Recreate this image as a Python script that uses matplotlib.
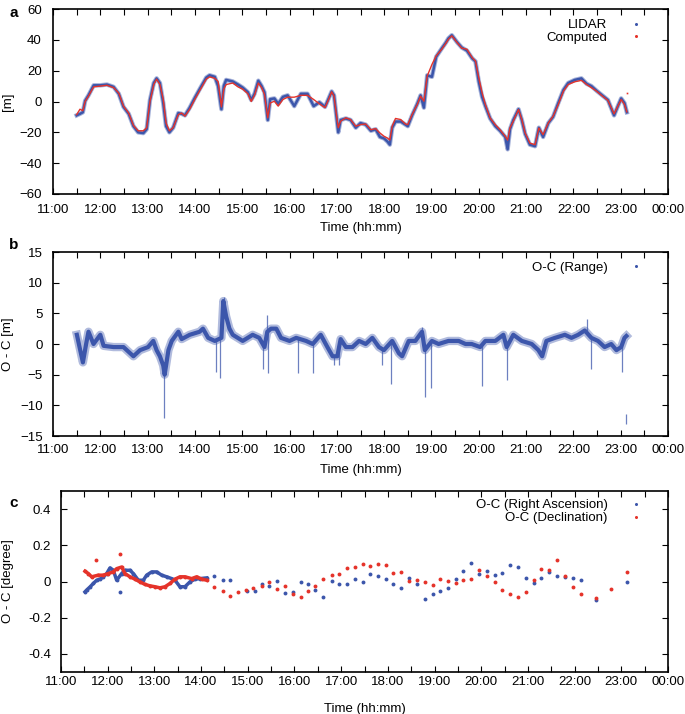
import matplotlib
matplotlib.use("Agg")
import matplotlib.pyplot as plt
import numpy as np

plt.rcParams['font.family'] = ['Liberation Sans', 'DejaVu Sans']
plt.rcParams['font.size'] = 9.5

BLUE = '#3c56ab'
RED = '#e5332a'

# ---- panel a : range (hours of day, metres)
t_a = [11.50, 11.57, 11.63, 11.68, 11.75, 11.86, 12.00, 12.14, 12.28, 12.39,
       12.49, 12.60, 12.70, 12.80, 12.91, 12.98, 13.05, 13.13, 13.19, 13.26,
       13.33, 13.39, 13.46, 13.54, 13.65, 13.72, 13.79, 13.89, 14.00, 14.10,
       14.24, 14.31, 14.42, 14.49, 14.56, 14.61, 14.66, 14.80, 14.91, 15.01,
       15.12, 15.19, 15.26, 15.34, 15.41, 15.47, 15.54, 15.59, 15.68, 15.76,
       15.86, 15.96, 16.10, 16.24, 16.38, 16.51, 16.63, 16.75, 16.84, 16.89,
       16.94, 17.00, 17.03, 17.08, 17.19, 17.29, 17.40, 17.50, 17.61, 17.72,
       17.82, 17.91, 18.00, 18.07, 18.12, 18.17, 18.24, 18.35, 18.45, 18.50,
       18.59, 18.70, 18.77, 18.84, 18.91, 19.01, 19.10, 19.22, 19.30, 19.36,
       19.43, 19.54, 19.64, 19.75, 19.86, 19.93, 20.00, 20.07, 20.14, 20.24,
       20.35, 20.45, 20.56, 20.61, 20.66, 20.73, 20.84, 20.91, 20.98, 21.08,
       21.19, 21.27, 21.36, 21.47, 21.57, 21.68, 21.79, 21.89, 22.03, 22.17,
       22.28, 22.38, 22.49, 22.59, 22.73, 22.86, 22.94, 23.01, 23.08, 23.13]
computed = [-8.5, -5, -6, 0, 3.5, 9.5, 10, 10.5, 9, 5.5,
            -3, -7.5, -15.5, -19, -19, -17, 0, 11, 14.5, 11,
            1.5, -14, -19, -17, -8.5, -7.5, -9.5, -5, 1.5, 7,
            14.5, 16, 15, 13, -3.5, 8, 11, 12, 9.5, 8,
            5, 0, 4, 12, 9, 4.6, -10.6, -1, 0.2, -3,
            1.3, 2.8, 2.8, 4, 4, 1.3, -1.5, -4, 2.4, 6.3,
            3.5, -10.6, -17, -12.8, -10.6, -11.7, -16, -15, -14.6, -18.3,
            -17.6, -20.4, -22.6, -23.7, -25, -16, -11, -11.7, -14.6, -15,
            -8.5, -2, 3.5, 0.2, 16.5, 24, 29.6, 34, 37.5, 40.4,
            42.6, 38.3, 34.6, 33.9, 28.5, 26.3, 15.4, 5.7, -2, -10.7,
            -15, -18.3, -22.6, -25, -17, -12.8, -5.2, -11.7, -20.4, -27,
            -28, -17.2, -21.5, -13.9, -9.6, -2, 6.7, 11, 12.8, 13.7,
            11, 9, 6.7, 4.1, 0.7, -8, -3, 1.3, -2, -6.7]
lidar = [-9, -8, -7, 0.5, 4, 10.5, 10.5, 11, 9.5, 5,
         -3.5, -8, -16, -20, -20.5, -18, 1, 12, 15, 12,
         -1, -16, -20, -17, -7.5, -8, -9, -4, 2.5, 8,
         15.5, 17, 16, 10, -5, 10, 14, 13, 11, 9,
         6, 1, 5, 13.5, 10, 6, -12, 1.5, 2, -1.5,
         3, 4, -3, 5, 5, -3, -0.5, -3.5, 3, 6.5,
         4, -12, -20, -12, -11, -12, -17, -14, -15, -19,
         -18, -23, -24, -26, -28, -17, -13, -13, -15, -16,
         -9, -1.5, 4, -4, 17, 16, 29, 34.5, 38, 41,
         43, 38.5, 35, 33, 28, 26, 13, 3, -3, -11,
         -16, -19, -23, -31, -18, -12, -5, -12, -21, -28,
         -29, -17, -23, -14, -10, -1, 7.5, 12, 14, 15,
         11.5, 10, 7, 4.5, 1, -9, -3, 2, -1, -7]
computed_extra_t = [23.13]
computed_extra_v = [5.7]

# ---- panel b : O-C range
t_b = [11.505, 11.575, 11.632, 11.70, 11.75, 11.856, 12.0, 12.07, 12.28, 12.49,
       12.63, 12.70, 12.84, 13.01, 13.12, 13.19, 13.26, 13.33, 13.36, 13.44,
       13.51, 13.65, 13.72, 13.89, 14.10, 14.17, 14.28, 14.42, 14.56, 14.60,
       14.66, 14.73, 14.80, 15.01, 15.22, 15.36, 15.47, 15.53, 15.61, 15.72,
       15.82, 16.0, 16.14, 16.35, 16.49, 16.66, 16.80, 16.91, 17.01, 17.08,
       17.19, 17.33, 17.47, 17.61, 17.75, 17.89, 17.995, 18.17, 18.31, 18.38,
       18.52, 18.66, 18.80, 18.86, 19.01, 19.15, 19.36, 19.575, 19.72, 19.85,
       20.03, 20.14, 20.35, 20.52, 20.59, 20.73, 20.91, 21.12, 21.26, 21.34,
       21.43, 21.61, 21.82, 21.96, 22.10, 22.24, 22.38, 22.52, 22.66, 22.80,
       22.91, 23.01, 23.08, 23.12]
oc_range = [1.5, -1, -3, 0, 2, 0, 1.5, -0.3, -0.5, -0.5,
            -1.5, -2, -1, -0.5, 0.5, -1, -2, -3.5, -5, -1,
            0.5, 2, 0.8, 1.5, 2, 2.5, 1, 0.5, 1, 7,
            4.5, 2.5, 1.5, 0.5, 1.5, 1, -0.5, 2, 2.5, 2.5,
            1, 0.5, 1, 0.5, 0, 1.5, -0.5, -2, -2, 0.8,
            -0.5, -0.5, 0.5, 0, 1, -0.5, -1, 0.5, -1.5, -2,
            0.5, 0.5, 2, -1, 0.5, 0, 0.5, 0.5, 0, 0,
            -0.5, 0.5, 0.5, 1.5, -0.5, 1.5, 0.5, 0, -1, -2,
            0.5, 1, 1.5, 1, 1.5, 2.2, 1, 0.5, -0.5, 0,
            -1, -0.5, 1, 1.3]
spike_t = [13.34, 14.44, 14.54, 14.61, 15.43, 15.53, 15.55, 16.18, 16.50, 16.95,
           17.05, 17.95, 18.15, 18.80, 18.87, 18.98, 20.07, 20.59, 22.28, 22.38,
           23.02]
spike_v = [-12, -4.5, -5.5, 7.6, -4, 4.8, -4.8, -4.8, -4.8, -3.5,
           -3.5, -3.5, -6.5, 2.8, -8.7, -7.2, -6.8, -5.8, 4, -4,
           -4.5]
iso_t = [23.12]
iso_lo = [-13.0]
iso_hi = [-11.4]

# ---- panel c : O-C angles (degree)
ra_dense_t = [11.514, 11.55, 11.621, 11.692, 11.764, 11.835, 11.906, 11.978, 12.049, 12.12,
              12.192, 12.299, 12.37, 12.477, 12.549, 12.656, 12.763, 12.834, 12.942, 13.049,
              13.156, 13.263, 13.37, 13.441, 13.548, 13.655, 13.762, 13.869, 13.976, 14.12]
ra_dense_v = [-0.057, -0.047, -0.03, -0.011, 0.007, 0.013, 0.026, 0.044, 0.075, 0.062,
              0.007, 0.044, 0.062, 0.062, 0.044, 0.007, 0.007, 0.035, 0.053, 0.053,
              0.035, 0.026, 0.016, 0.007, -0.029, -0.029, -0.002, 0.013, 0.016, 0.02]
dec_dense_t = [11.514, 11.585, 11.656, 11.799, 11.906, 12.013, 12.12, 12.192, 12.299, 12.37,
               12.477, 12.584, 12.691, 12.798, 12.905, 13.013, 13.12, 13.227, 13.334, 13.441,
               13.548, 13.655, 13.798, 13.905, 14.012, 14.12]
dec_dense_v = [0.057, 0.044, 0.026, 0.035, 0.035, 0.044, 0.053, 0.071, 0.08, 0.044,
               0.026, 0.013, -0.002, -0.016, -0.024, -0.029, -0.035, -0.029, -0.011, 0.013,
               0.026, 0.026, 0.016, 0.026, 0.013, 0.007]
ra_t = [12.26, 14.28, 14.47, 14.63, 14.98, 15.15, 15.30, 15.46, 15.62, 15.80,
        15.96, 16.13, 16.30, 16.45, 16.62, 16.80, 16.96, 17.12, 17.30, 17.46,
        17.62, 17.79, 17.95, 18.12, 18.29, 18.46, 18.63, 18.79, 18.96, 19.12,
        19.29, 19.45, 19.62, 19.79, 19.96, 20.12, 20.29, 20.45, 20.62, 20.79,
        20.96, 21.12, 21.29, 21.46, 21.62, 21.79, 21.96, 22.13, 22.45, 23.12]
ra_v = [-0.057, 0.029, 0.011, 0.007, -0.053, -0.053, -0.016, -0.024, 0.004, -0.066,
        -0.057, -0.002, -0.016, -0.047, -0.084, 0.005, -0.016, -0.013, 0.015, 0.0,
        0.042, 0.031, 0.016, -0.015, -0.035, 0.02, -0.016, -0.095, -0.068, -0.053,
        -0.035, 0.016, 0.057, 0.102, 0.044, 0.058, 0.037, 0.049, 0.093, 0.079,
        0.022, -0.007, 0.022, 0.053, 0.031, 0.024, 0.018, 0.011, -0.104, -0.005]
dec_t = [11.75, 12.27, 14.28, 14.46, 14.63, 14.80, 14.96, 15.12, 15.30, 15.46,
         15.62, 15.80, 15.96, 16.13, 16.30, 16.45, 16.62, 16.80, 16.96, 17.12,
         17.30, 17.46, 17.62, 17.79, 17.95, 18.12, 18.29, 18.46, 18.63, 18.79,
         18.96, 19.12, 19.29, 19.45, 19.62, 19.79, 19.96, 20.12, 20.29, 20.45,
         20.62, 20.79, 20.96, 21.12, 21.29, 21.46, 21.62, 21.79, 21.96, 22.13,
         22.45, 22.78, 23.12]
dec_v = [0.117, 0.15, -0.033, -0.053, -0.079, -0.06, -0.046, -0.035, -0.024, -0.004,
         -0.044, -0.026, -0.071, -0.084, -0.053, -0.024, 0.016, 0.037, 0.044, 0.073,
         0.08, 0.097, 0.086, 0.097, 0.091, 0.049, 0.051, 0.004, 0.007, -0.004,
         -0.02, 0.016, 0.004, -0.009, 0.007, 0.013, 0.062, 0.031, -0.002, -0.047,
         -0.068, -0.088, -0.057, 0.007, 0.068, 0.066, 0.121, 0.033, -0.033, -0.068,
         -0.09, -0.04, 0.051]

hours = list(range(11, 25))
hour_labels = ['%02d:00' % (h % 24) for h in hours]

fig = plt.figure(figsize=(6.85, 7.14), dpi=100)
W, H = 685.0, 714.0
ax_a = fig.add_axes([53 / W, 1 - 194 / H, 615 / W, 185 / H])
ax_b = fig.add_axes([53 / W, 1 - 436 / H, 615 / W, 184 / H])
ax_c = fig.add_axes([61 / W, 1 - 672 / H, 607 / W, 181 / H])


def style(ax, xpad, ypad, lpad):
    ax.set_xlim(11, 24)
    ax.set_xticks(hours)
    ax.set_xticklabels(hour_labels)
    ax.set_xticks(np.arange(11.5, 24, 1), minor=True)
    ax.tick_params(which='both', direction='in', top=True, right=True,
                   labelsize=9.5)
    ax.tick_params(axis='x', pad=xpad)
    ax.tick_params(axis='y', pad=ypad)
    ax.tick_params(which='major', length=4, width=0.8)
    ax.tick_params(which='minor', length=4, width=0.8)
    ax.tick_params(axis='y', which='minor', left=False, right=False)
    for s in ax.spines.values():
        s.set_linewidth(1.2)
    ax.set_xlabel('Time (hh:mm)', fontsize=9.5, labelpad=lpad)


def leg(ax, handles, labels, anchor):
    ax.legend(handles, labels, loc='upper right', bbox_to_anchor=anchor,
              frameon=False, markerfirst=False, handlelength=2.7,
              handletextpad=0.8, borderaxespad=0, labelspacing=0.05,
              fontsize=9.5)


# panel a
ax_a.plot(t_a, lidar, color=BLUE, lw=3.2, alpha=0.45)
ax_a.plot(t_a, lidar, color=BLUE, lw=1.8)
ax_a.plot(t_a, computed, color=RED, lw=1.0)
ax_a.plot(computed_extra_t, computed_extra_v, 's', color=RED, ms=1.2, mew=0)
style(ax_a, 7, 8, 4.2)
ax_a.set_ylim(-60, 60)
ax_a.set_yticks(np.arange(-60, 61, 20))
ax_a.set_ylabel('[m]')
ax_a.yaxis.set_label_coords(-0.064, 0.5)
hb, = ax_a.plot([], [], 'o', color=BLUE, ms=2.2, mew=0)
hr, = ax_a.plot([], [], 'o', color=RED, ms=2.2, mew=0)
leg(ax_a, [hb, hr], ['LIDAR', 'Computed'], (0.985, 0.975))

# panel b
ax_b.plot(t_b, oc_range, color=BLUE, lw=6, alpha=0.4)
ax_b.plot(t_b, oc_range, color=BLUE, lw=3.0)
base = np.interp(spike_t, t_b, oc_range)
ax_b.vlines(spike_t, base, spike_v, color=BLUE, lw=0.9, alpha=0.75)
ax_b.vlines(iso_t, iso_lo, iso_hi, color=BLUE, lw=0.9, alpha=0.75)
style(ax_b, 5.7, 7.5, 5.6)
ax_b.set_ylim(-15, 15)
ax_b.set_yticks(np.arange(-15, 16, 5))
ax_b.set_ylabel('O - C [m]')
ax_b.yaxis.set_label_coords(-0.064, 0.5)
hb2, = ax_b.plot([], [], 'o', color=BLUE, ms=2.2, mew=0)
leg(ax_b, [hb2], ['O-C (Range)'], (0.985, 0.975))

# panel c
ax_c.plot(ra_dense_t, ra_dense_v, '-o', color=BLUE, lw=2.5, ms=2.8, mew=0)
ax_c.plot(dec_dense_t, dec_dense_v, '-o', color=RED, lw=2.5, ms=2.8, mew=0)
ax_c.plot(ra_t, ra_v, 'o', color=BLUE, ms=2.8, mew=0)
ax_c.plot(dec_t, dec_v, 'o', color=RED, ms=2.8, mew=0)
style(ax_c, 3, 7, 10.6)
ax_c.set_ylim(-0.5, 0.5)
ax_c.set_yticks([-0.4, -0.2, 0, 0.2, 0.4])
ax_c.set_yticklabels(['-0.4', '-0.2', '0', '0.2', '0.4'])
ax_c.set_ylabel('O - C [degree]')
ax_c.yaxis.set_label_coords(-0.078, 0.5)
hb3, = ax_c.plot([], [], 'o', color=BLUE, ms=2.2, mew=0)
hr3, = ax_c.plot([], [], 'o', color=RED, ms=2.2, mew=0)
leg(ax_c, [hb3, hr3], ['O-C (Right Ascension)', 'O-C (Declination)'], (0.985, 0.985))

for lab, y in (('a', 13), ('b', 245), ('c', 503)):
    fig.text(9 / W, 1 - y / H, lab, fontsize=11, fontweight='bold',
             ha='left', va='center')

fig.savefig('out.png', dpi=100)
